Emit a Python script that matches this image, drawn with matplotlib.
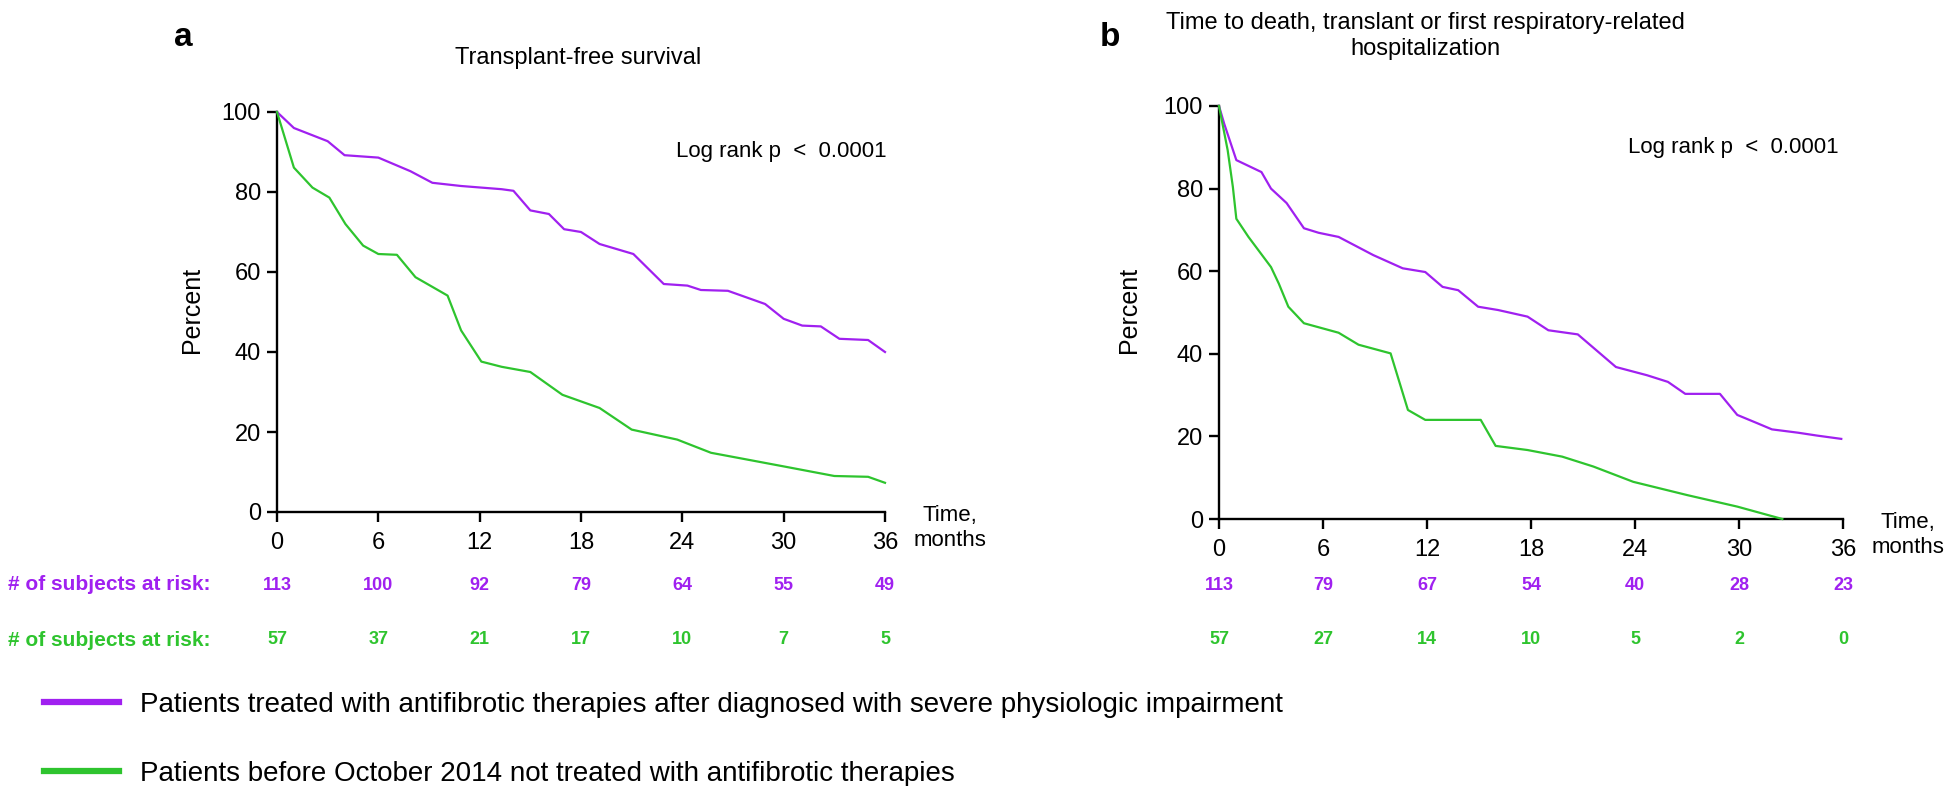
import numpy as np
import matplotlib
matplotlib.use("Agg")
from matplotlib import pyplot as plt
from matplotlib import transforms
from matplotlib.lines import Line2D

plt.rcParams['font.family'] = ['Liberation Sans', 'DejaVu Sans']

purple = "#A020F0"
green = "#2EC42E"

# panel a: transplant-free survival (months, percent)
a_treated_t = [0, 1.0, 3.0, 4.0, 6.0, 7.9, 9.2, 10.9, 13.3, 14.0, 15.0, 16.1, 17.0, 18.0,
               19.1, 21.1, 22.9, 24.3, 25.1, 26.7, 28.9, 30.0, 31.1, 32.2, 33.3, 35.0, 36.0]
a_treated_s = [100, 96, 92.7, 89.2, 88.6, 85.2, 82.3, 81.5, 80.7, 80.3, 75.4, 74.5, 70.7, 70,
               67, 64.5, 57, 56.6, 55.5, 55.3, 52, 48.3, 46.6, 46.4, 43.3, 43, 40]
a_untreated_t = [0, 1.0, 2.1, 3.1, 4.05, 5.1, 6.0, 7.1, 8.2, 10.1, 10.9, 12.1, 13.3, 15.0,
                 16.9, 19.1, 21.0, 23.7, 25.7, 27.6, 30.0, 33.0, 35.0, 36.0]
a_untreated_s = [100, 86.1, 81.1, 78.6, 72, 66.6, 64.5, 64.3, 58.7, 54.1, 45.4, 37.6, 36.3, 35,
                 29.3, 26, 20.6, 18.1, 14.8, 13.3, 11.4, 9.0, 8.8, 7.3]

# panel b: death, transplant or first respiratory-related hospitalization
b_treated_t = [0, 0.3, 1.0, 2.45, 3.0, 3.9, 4.9, 5.75, 6.9, 8.9, 10.6, 11.9, 12.9, 13.8, 14.95,
               16.1, 17.8, 19.0, 20.7, 22.9, 24.7, 25.9, 26.9, 28.9, 29.9, 31.05, 31.9, 33.4, 34.5, 35.9]
b_treated_s = [100, 95.7, 86.9, 84, 80, 76.5, 70.4, 69.3, 68.3, 63.9, 60.7, 59.8, 56.2, 55.4, 51.4,
               50.6, 49, 45.7, 44.7, 36.8, 34.8, 33.2, 30.3, 30.3, 25.2, 23.2, 21.7, 20.9, 20.2, 19.4]
b_untreated_t = [0, 0.5, 0.8, 1.0, 1.7, 3.0, 3.45, 4.0, 4.9, 6.9, 8.05, 9.9, 10.9, 11.9, 15.1,
                 15.96, 17.8, 19.8, 21.6, 23.9, 27.0, 29.9, 32.5]
b_untreated_s = [100, 89.3, 80.4, 72.7, 68.3, 61, 57, 51.4, 47.4, 45.1, 42.2, 40.1, 26.4, 24, 24,
                 17.7, 16.7, 15.1, 12.7, 9.0, 5.8, 3.0, 0]

# numbers at risk
risk_times = [0, 6, 12, 18, 24, 30, 36]
a_risk_treated = [113, 100, 92, 79, 64, 55, 49]
a_risk_untreated = [57, 37, 21, 17, 10, 7, 5]
b_risk_treated = [113, 79, 67, 54, 40, 28, 23]
b_risk_untreated = [57, 27, 14, 10, 5, 2, 0]

label_treated = "Patients treated with antifibrotic therapies after diagnosed with severe physiologic impairment"
label_untreated = "Patients before October 2014 not treated with antifibrotic therapies"

W, H = 1960, 786
fig = plt.figure(figsize=(W / 100, H / 100), dpi=100)


def fx(px):
    return px / W


def fy(py):
    return 1 - py / H


def panel(rect, t1, s1, t2, s2, risk1, risk2, letter, title, ylab_x, letter_x, title_x, title_y, show_row_label):
    ax = fig.add_axes(rect)
    ax.plot(t1, s1, color=purple, lw=1.6, clip_on=False, zorder=3)
    ax.plot(t2, s2, color=green, lw=1.6, clip_on=False, zorder=3)
    ax.set_xlim(0, 36)
    ax.set_ylim(0, 100)
    ax.set_xticks(risk_times)
    ax.set_yticks(range(0, 101, 20))
    for s in ["top", "right"]:
        ax.spines[s].set_visible(False)
    for s in ["left", "bottom"]:
        ax.spines[s].set_linewidth(1.7)
    ax.tick_params(direction="out", length=7.5, width=1.7, labelsize=17, pad=4)
    ax.tick_params(axis="x", pad=7)
    ax.text(23.6, 90, "Log rank p  <  0.0001", fontsize=16, va="center", ha="left")

    x1 = (rect[0] + rect[2]) * W
    y0 = (1 - rect[1]) * H
    fig.text(fx(ylab_x), fy(310), "Percent", rotation=90, fontsize=18, ha="center", va="center")
    fig.text(fx(x1 + 65), fy(y0 + 16), "Time,\nmonths", fontsize=16, ha="center", va="center",
             multialignment="center", linespacing=1.2)
    fig.text(fx(letter_x), fy(38), letter, fontsize=24, fontweight="bold", ha="center", va="center")
    fig.text(fx(title_x), fy(title_y), title, fontsize=17, ha="center", va="center",
             multialignment="center", linespacing=1.25)

    tr = transforms.blended_transform_factory(ax.transData, fig.transFigure)
    for t, n1, n2 in zip(risk_times, risk1, risk2):
        fig.text(t, fy(585), str(n1), transform=tr, color=purple, fontsize=13,
                 fontweight="bold", ha="center", va="center")
        fig.text(t, fy(640), str(n2), transform=tr, color=green, fontsize=13,
                 fontweight="bold", ha="center", va="center")
    if show_row_label:
        fig.text(fx(8), fy(585), "# of subjects at risk:", color=purple, fontsize=15,
                 fontweight="bold", ha="left", va="center")
        fig.text(fx(8), fy(640), "# of subjects at risk:", color=green, fontsize=15,
                 fontweight="bold", ha="left", va="center")
    return ax


panel([fx(277), fy(512), fx(608), 400 / H], a_treated_t, a_treated_s, a_untreated_t, a_untreated_s,
      a_risk_treated, a_risk_untreated, "a", "Transplant-free survival", 192, 183, 578, 58, True)
panel([fx(1219), fy(519), fx(624), 413 / H], b_treated_t, b_treated_s, b_untreated_t, b_untreated_s,
      b_risk_treated, b_risk_untreated, "b",
      "Time to death, translant or first respiratory-related\nhospitalization", 1129, 1110, 1425, 36, False)

handles = [Line2D([], [], color=purple, lw=4.5), Line2D([], [], color=green, lw=4.5)]
fig.legend(handles, [label_treated, label_untreated], loc="upper left",
           bbox_to_anchor=(fx(44), fy(692)), frameon=False, fontsize=20,
           handlelength=2.7, handletextpad=0.75, labelspacing=1.55, borderpad=0, borderaxespad=0)

fig.savefig("out.png", dpi=100)
